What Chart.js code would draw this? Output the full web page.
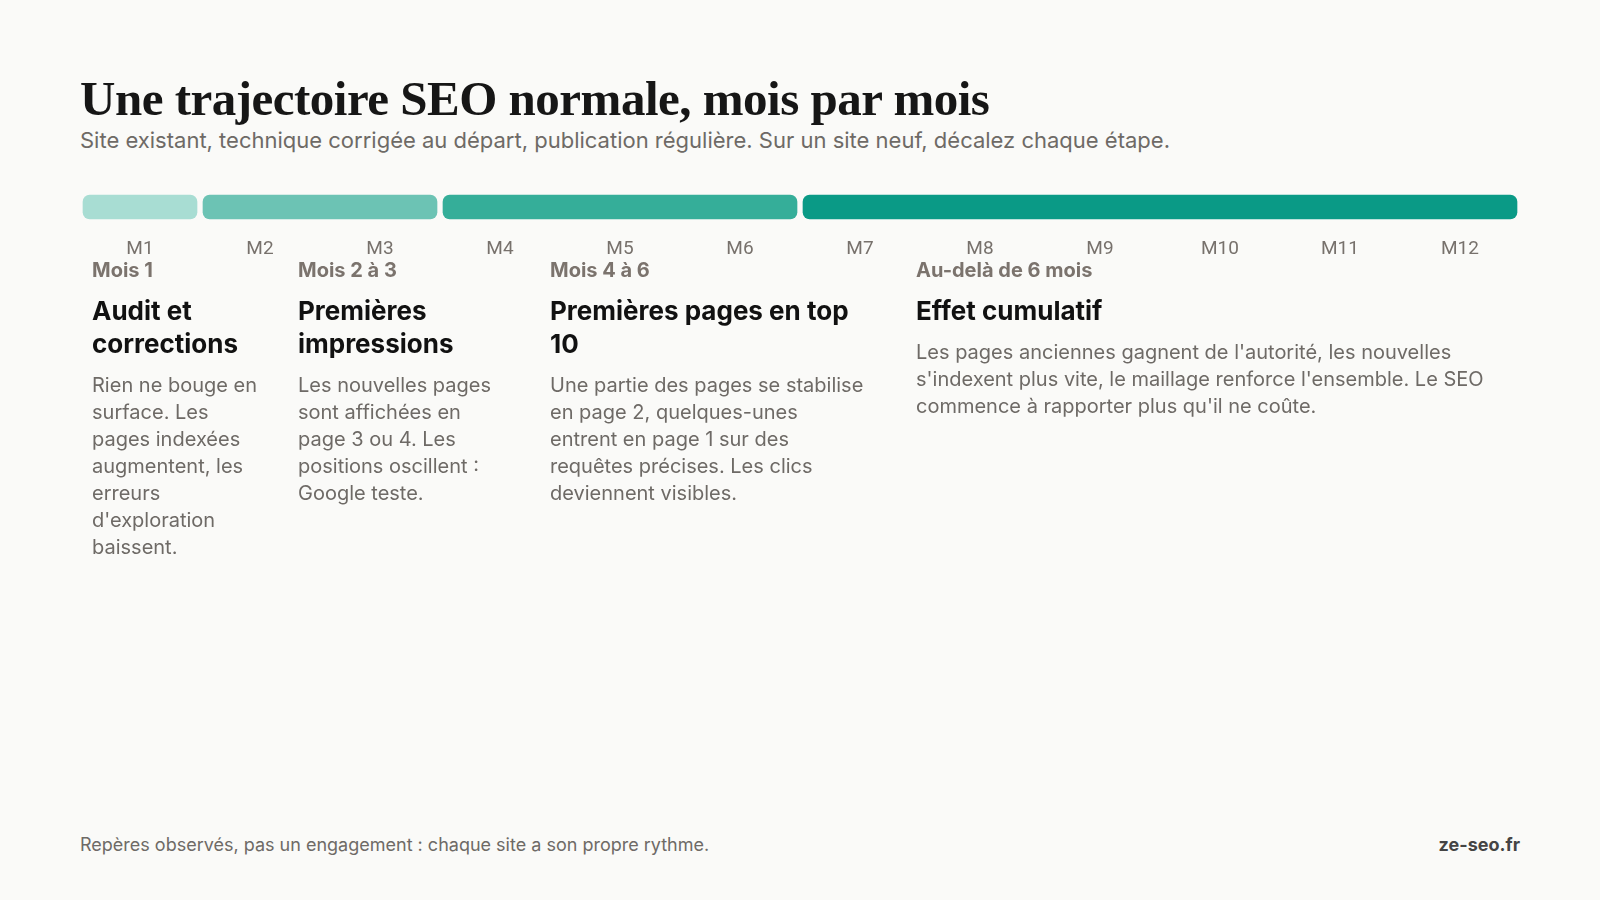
<!DOCTYPE html>
<html><head><meta charset="utf-8">
<script src="https://cdn.jsdelivr.net/npm/chart.js@4"></script>
<style>
body{margin:0;background:#fafaf8;width:1600px;height:900px;position:relative;overflow:hidden;font-family:Inter,"Open Sans",sans-serif;}
h1{position:absolute;left:80px;top:70px;margin:0;font-family:"Liberation Serif",serif;font-weight:700;font-size:49px;color:#161616;letter-spacing:-0.5px}
.sub{position:absolute;left:80px;top:127px;font-size:22px;color:#6e6a66}
#wrap{position:absolute;left:74px;top:184px;width:1452px;height:80px}
.col{position:absolute;top:258px}
.col .k{font-size:20px;font-weight:700;color:#7b736d;margin-bottom:12px}
.col .t{font-size:26px;font-weight:700;color:#111;line-height:33px;margin-bottom:12px}
.col .d{font-size:20px;color:#6e6a66;line-height:27px}
.foot{position:absolute;top:834px;font-size:18px;color:#6e6a66}
</style></head><body>
<h1>Une trajectoire SEO normale, mois par mois</h1>
<div class="sub">Site existant, technique corrigée au départ, publication régulière. Sur un site neuf, décalez chaque étape.</div>
<div id="wrap"><canvas id="c"></canvas></div>
<div id="cols"></div>
<div class="foot" style="left:80px">Repères observés, pas un engagement : chaque site a son propre rythme.</div>
<div class="foot" style="right:80px;font-weight:700;color:#444">ze-seo.fr</div>
<script>
const months=["M1","M2","M3","M4","M5","M6","M7","M8","M9","M10","M11","M12"];
const phaseStart=[0,1,3,6];
const phaseEnd=[1,3,6,12];
const phaseColors=["#a8ddd3","#6cc3b4","#35ae99","#0a9a86"];
const phaseKeys=["Mois 1","Mois 2 à 3","Mois 4 à 6","Au-delà de 6 mois"];
const phaseTitles=["Audit et corrections","Premières impressions","Premières pages en top 10","Effet cumulatif"];
const phaseTexts=["Rien ne bouge en surface. Les pages indexées augmentent, les erreurs d'exploration baissent.",
"Les nouvelles pages sont affichées en page 3 ou 4. Les positions oscillent : Google teste.",
"Une partie des pages se stabilise en page 2, quelques-unes entrent en page 1 sur des requêtes précises. Les clics deviennent visibles.",
"Les pages anciennes gagnent de l'autorité, les nouvelles s'indexent plus vite, le maillage renforce l'ensemble. Le SEO commence à rapporter plus qu'il ne coûte."];
const colPos=[[92,165],[298,215],[550,320],[916,590]];
const cols=document.getElementById('cols');
phaseKeys.forEach((k,i)=>{const d=document.createElement('div');d.className='col';d.style.left=colPos[i][0]+'px';d.style.width=colPos[i][1]+'px';
d.innerHTML=`<div class="k">${k}</div><div class="t">${phaseTitles[i]}</div><div class="d">${phaseTexts[i]}</div>`;cols.appendChild(d);});
new Chart(document.getElementById('c'),{type:'bar',
data:{labels:[''],datasets:phaseStart.map((s,i)=>({data:[[s,phaseEnd[i]]],backgroundColor:phaseColors[i],borderColor:'#fafaf8',borderWidth:3,borderSkipped:false,borderRadius:10,barThickness:30,grouped:false}))},
options:{indexAxis:'y',responsive:true,maintainAspectRatio:false,animation:false,
layout:{padding:{left:6,right:6,top:4,bottom:0}},
plugins:{legend:{display:false},tooltip:{enabled:false}},
scales:{y:{display:false},
x:{type:'linear',min:0,max:12,grid:{display:false},border:{display:false},
afterBuildTicks:a=>{a.ticks=months.map((m,i)=>({value:i+0.5}));},
ticks:{padding:4,autoSkip:false,maxRotation:0,color:'#77716c',font:{family:'"Liberation Sans Narrow","Roboto",sans-serif',size:19},callback:(v,i)=>months[i]}}}}});
</script></body></html>
